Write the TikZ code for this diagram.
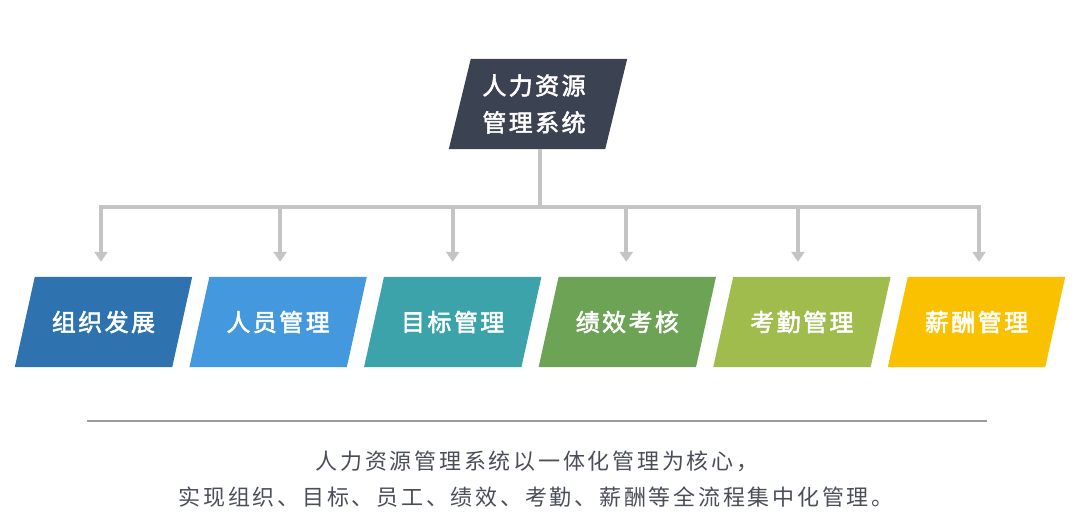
\documentclass[tikz,border=0pt]{standalone}
\usepackage{fontspec}
\newfontfamily\cjkbox[LetterSpace=10,FakeBold=2.2]{Noto Sans CJK SC}
\newfontfamily\cjkbody[LetterSpace=12.5]{Noto Sans CJK SC}
\usetikzlibrary{arrows.meta}
\pgfdeclarelayer{bg}
\pgfsetlayers{bg,main}
\definecolor{topcol}{HTML}{3B4251}
\definecolor{cA}{HTML}{2E73B0}
\definecolor{cB}{HTML}{4398DE}
\definecolor{cC}{HTML}{3BA3A9}
\definecolor{cD}{HTML}{6DA354}
\definecolor{cE}{HTML}{9FBC4D}
\definecolor{cF}{HTML}{FAC100}
\definecolor{linegray}{HTML}{C4C4C4}
\definecolor{rulegray}{HTML}{9A9A9A}
\definecolor{bodycol}{HTML}{4A4E57}
\begin{document}
\begin{tikzpicture}[x=1pt,y=-1pt,
  pbox/.style={minimum width=157pt, minimum height=90pt, inner sep=0pt, text=white,
    font=\cjkbox\fontsize{24}{30}\selectfont},
  topbox/.style={pbox, minimum width=156pt, align=center,
    font=\cjkbox\fontsize{24}{37}\selectfont},
  conn/.style={draw=linegray, line width=4pt, -{Triangle[width=13pt,length=10pt]}},
  bodytext/.style={inner sep=0pt, text=bodycol, font=\cjkbody\fontsize{22}{26}\selectfont}]
\useasboundingbox (0,0) rectangle (1087,531);
\node[topbox] (hr) at (538,104) {\hspace*{-8pt}人力资源\\\hspace*{-8pt}管理系统};
\node[pbox] (b1) at (103.5,322) {组织发展};
\node[pbox] (b2) at (278.1,322) {人员管理};
\node[pbox] (b3) at (452.7,322) {目标管理};
\node[pbox] (b4) at (627.3,322) {绩效考核};
\node[pbox] (b5) at (801.9,322) {考勤管理};
\node[pbox] (b6) at (976.5,322) {薪酬管理};
\begin{pgfonlayer}{bg}
\foreach \n/\c/\s in {hr/topcol/11, b1/cA/10, b2/cB/10, b3/cC/10, b4/cD/10, b5/cE/10, b6/cF/10}
  \fill[\c] ([xshift=\s pt]\n.north west) -- ([xshift=\s pt]\n.north east)
    -- ([xshift=-\s pt]\n.south east) -- ([xshift=-\s pt]\n.south west) -- cycle;
\end{pgfonlayer}
\foreach \b/\dx in {b1/-2.5,b2/2,b3/0,b4/-1,b5/-4,b6/2.5}
  \draw[conn] ([xshift=2pt]hr.south) -- ++(0,58) -| ([xshift=\dx pt,yshift=15pt]\b.north);
\draw[rulegray, line width=1.3pt] (87,421) -- (987,421);
\node[bodytext] (t1) at (537,461) {人力资源管理系统以一体化管理为核心，};
\node[bodytext] (t2) at (536,497) {实现组织、目标、员工、绩效、考勤、薪酬等全流程集中化管理。};
\end{tikzpicture}
\end{document}
